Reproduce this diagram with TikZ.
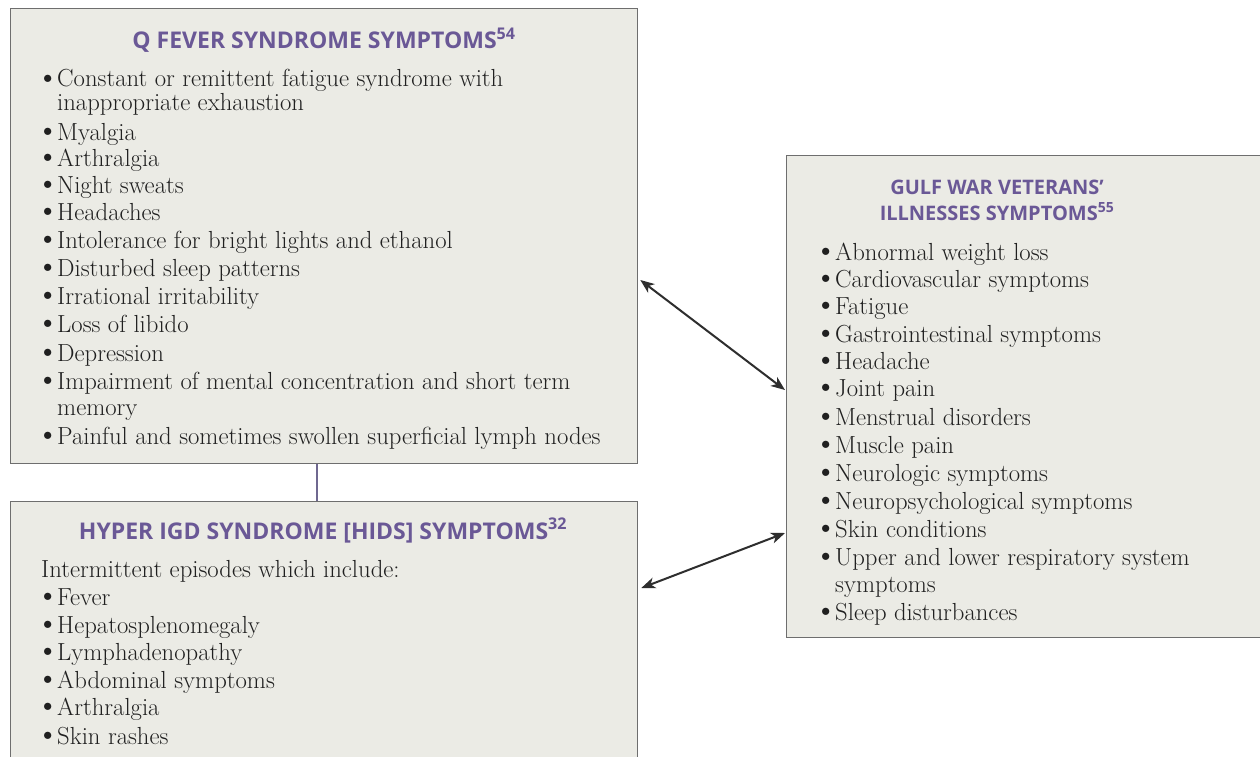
\documentclass[tikz,border=0pt]{standalone}
\usepackage{fontspec}
\newfontfamily\titlefont{Open Sans}
\usetikzlibrary{arrows.meta}
\definecolor{boxfill}{HTML}{EBEBE5}
\definecolor{boxline}{HTML}{6E6E6E}
\definecolor{titlecol}{HTML}{6A5896}
\definecolor{linkcol}{HTML}{6F6890}
\definecolor{arrowcol}{HTML}{2E2E2E}
\definecolor{textcol}{HTML}{202020}
\newcommand{\bul}{\makebox[14pt][l]{\raisebox{0.14em}{\scalebox{0.75}{$\bullet$}}}}
\newcommand{\cnt}{\hspace*{14pt}}
\tikzset{
  panel/.style={draw=boxline, line width=1.3pt, fill=boxfill, anchor=north west, inner sep=0pt},
  ttl/.style={anchor=base, inner sep=0pt, text=titlecol, font=\titlefont\bfseries\fontsize{23}{27}\selectfont, align=center},
  ttlsmall/.style={ttl, font=\titlefont\bfseries\fontsize{20}{24}\selectfont},
  txt/.style={anchor=base west, inner sep=0pt, text=textcol, font=\fontsize{24.7}{28}\selectfont},
  link/.style={draw=linkcol, line width=1.6pt},
  dbl/.style={draw=arrowcol, line width=2pt, {Stealth[length=14pt,width=11pt,inset=4pt]}-{Stealth[length=14pt,width=11pt,inset=4pt]}},
}
\begin{document}
\begin{tikzpicture}[x=1pt,y=1pt]
\useasboundingbox (0,0) rectangle (1260,-757);
\clip (0,0) rectangle (1260,-757);
\fill[white] (0,0) rectangle (1260,-757);

% boxes
\node[panel, minimum width=627pt, minimum height=455pt] (qf) at (10,-8) {};
\node[panel, minimum width=627pt, minimum height=270pt] (hd) at (10,-501) {};
\node[panel, minimum width=480pt, minimum height=482pt] (gw) at (786,-155) {};

% titles
\node[ttl] (qft) at (324,-49) {Q FEVER SYNDROME SYMPTOMS\textsuperscript{54}};
\node[ttl] (hdt) at (323,-539) {HYPER IGD SYNDROME [HIDS] SYMPTOMS\textsuperscript{32}};
\node[ttlsmall] (gwt1) at (997,-194) {GULF WAR VETERANS’};
\node[ttlsmall] (gwt2) at (997,-220) {ILLNESSES SYMPTOMS\textsuperscript{55}};

% Q fever list
\foreach \t/\yy [count=\i] in {
  {\bul Constant or remittent fatigue syndrome with}/87,
  {\cnt inappropriate exhaustion}/111,
  {\bul Myalgia}/140,
  {\bul Arthralgia}/166,
  {\bul Night sweats}/193,
  {\bul Headaches}/220,
  {\bul Intolerance for bright lights and ethanol}/248,
  {\bul Disturbed sleep patterns}/276,
  {\bul Irrational irritability}/304,
  {\bul Loss of libido}/332,
  {\bul Depression}/361,
  {\bul Impairment of mental concentration and short term}/389,
  {\cnt memory}/415,
  {\bul Painful and sometimes swollen superficial lymph nodes}/444}
  \node[txt] (q\i) at (43,-\yy) {\t};

% HIDS list
\node[txt] (h0) at (41,-577) {Intermittent episodes which include:};
\foreach \t/\yy [count=\i] in {
  {\bul Fever}/605,
  {\bul Hepatosplenomegaly}/633,
  {\bul Lymphadenopathy}/660,
  {\bul Abdominal symptoms}/688,
  {\bul Arthralgia}/715,
  {\bul Skin rashes}/744}
  \node[txt] (h\i) at (43,-\yy) {\t};

% Gulf war list
\foreach \t/\yy [count=\i] in {
  {\bul Abnormal weight loss}/260,
  {\bul Cardiovascular symptoms}/287,
  {\bul Fatigue}/314,
  {\bul Gastrointestinal symptoms}/342,
  {\bul Headache}/369,
  {\bul Joint pain}/396,
  {\bul Menstrual disorders}/425,
  {\bul Muscle pain}/453,
  {\bul Neurologic symptoms}/481,
  {\bul Neuropsychological symptoms}/509,
  {\bul Skin conditions}/537,
  {\bul Upper and lower respiratory system}/565,
  {\cnt symptoms}/592,
  {\bul Sleep disturbances}/620}
  \node[txt] (g\i) at (821,-\yy) {\t};

% connectors
\draw[link] ([xshift=-7pt]qf.south) -- ([xshift=-7pt]hd.north);
\path (qf.north east) ++(2,-272) coordinate (a1s);
\path (gw.north west) ++(-1,-235) coordinate (a1e);
\path (hd.north east) ++(3,-87) coordinate (a2s);
\path (gw.north west) ++(-1,-378) coordinate (a2e);
\draw[dbl] (a1s) -- (a1e);
\draw[dbl] (a2s) -- (a2e);
\end{tikzpicture}
\end{document}
